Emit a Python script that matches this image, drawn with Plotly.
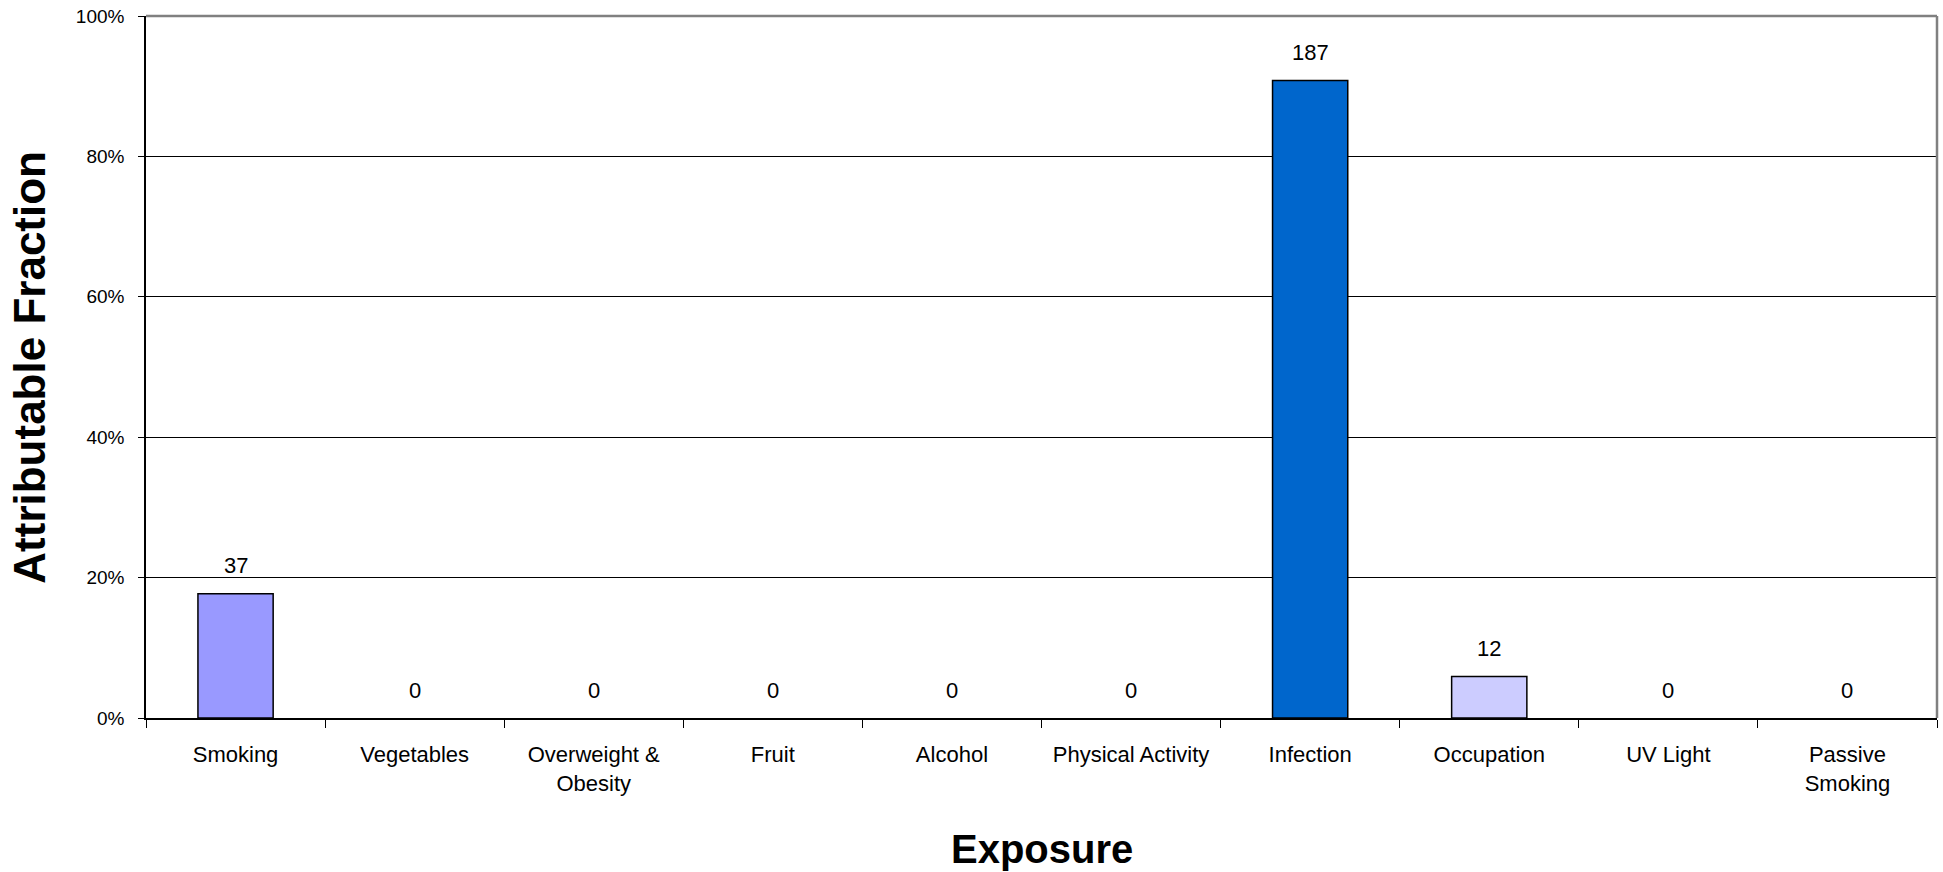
import plotly.graph_objects as go

# Exposure categories and results
categories = ["Smoking", "Vegetables", "Overweight &<br>Obesity", "Fruit", "Alcohol",
              "Physical Activity", "Infection", "Occupation", "UV Light", "Passive<br>Smoking"]
attributable_fraction = [0.177, 0.0, 0.0, 0.0, 0.0, 0.0, 0.908, 0.059, 0.0, 0.0]
attributable_cases = [37, 0, 0, 0, 0, 0, 187, 12, 0, 0]
bar_colors = ["#9999FF", "#9999FF", "#9999FF", "#9999FF", "#9999FF",
              "#9999FF", "#0066CC", "#CCCCFF", "#9999FF", "#9999FF"]
y_ticks = [0, 0.2, 0.4, 0.6, 0.8, 1.0]

FONT = "Liberation Sans, Arial, sans-serif"

# empty bars get no outline so nothing is drawn for them
outline_widths = [1.5 if v > 0 else 0 for v in attributable_fraction]

fig = go.Figure()
fig.add_trace(go.Bar(
    x=categories,
    y=attributable_fraction,
    marker=dict(color=bar_colors, line=dict(color="black", width=outline_widths)),
    hoverinfo="x+y",
))

# case counts written above each bar
for cat, frac, n in zip(categories, attributable_fraction, attributable_cases):
    fig.add_annotation(x=cat, y=frac, text=str(n), showarrow=False,
                       yshift=28, yanchor="middle", xanchor="center",
                       font=dict(family=FONT, size=22, color="black"))

# axis titles
fig.add_annotation(xref="paper", yref="paper", x=0.5, y=-0.187, text="<b>Exposure</b>",
                   showarrow=False, xanchor="center", yanchor="middle",
                   font=dict(family=FONT, size=40, color="black"))
fig.add_annotation(xref="paper", yref="paper", x=-0.0655, y=0.5,
                   text="<b>Attributable Fraction</b>", textangle=-90,
                   showarrow=False, xanchor="center", yanchor="middle",
                   font=dict(family=FONT, size=44, color="black"))

# grey frame on the top and right of the plot area
fig.add_shape(type="line", xref="paper", yref="paper", x0=0, x1=1, y0=1, y1=1,
              line=dict(color="#808080", width=2.5))
fig.add_shape(type="line", xref="paper", yref="paper", x0=1, x1=1, y0=0, y1=1,
              line=dict(color="#808080", width=2.5))

fig.update_layout(
    width=1943, height=872,
    margin=dict(l=146, r=6, t=16, b=154),
    paper_bgcolor="white", plot_bgcolor="white",
    bargap=0.58,
    showlegend=False,
    font=dict(family=FONT, color="black"),
    xaxis=dict(
        type="category",
        showline=True, linecolor="black", linewidth=1.5,
        ticks="outside", tickson="boundaries", ticklen=8, tickcolor="black", tickwidth=1,
        tickfont=dict(family=FONT, size=22, color="black"),
        ticklabelstandoff=16,
        showgrid=False, zeroline=False,
    ),
    yaxis=dict(
        range=[0, 1], tickvals=y_ticks, tickformat=".0%",
        showline=True, linecolor="black", linewidth=1.5,
        ticks="outside", ticklen=6, tickcolor="black", tickwidth=1,
        tickfont=dict(family=FONT, size=19, color="black"),
        showgrid=True, gridcolor="black", gridwidth=1,
        zeroline=False,
        ticklabelstandoff=10,
    ),
)

fig.write_html("out.html")
